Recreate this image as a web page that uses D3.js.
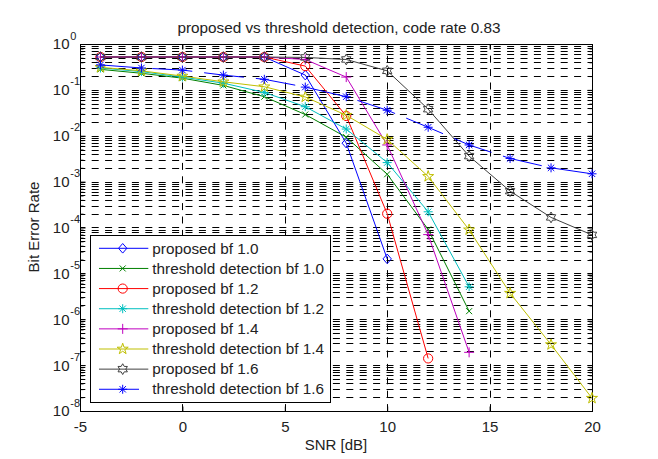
<!DOCTYPE html>
<html><head><meta charset="utf-8">
<script src="https://cdn.jsdelivr.net/npm/d3@7"></script>
<style>
body{margin:0;background:#fff}
text{font-family:"Liberation Sans",Arial,sans-serif;fill:#222}
</style>
</head><body>
<svg id="c" width="658" height="459"></svg>
<script>
// ---------------- data ----------------
const snr = [-4,-2,0,2,4,6,8,10,12,14,16,18,20];
const proposed10  = [0.52,0.52,0.52,0.52,0.52,0.21,0.0069,2.07e-5];
const threshold10 = [0.28,0.23,0.18,0.125,0.071,0.029,0.0093,0.00145,9.1e-5,1.5e-6];
const proposed12  = [0.52,0.52,0.52,0.52,0.52,0.33,0.027,2.0e-4,1.4e-7];
const threshold12 = [0.30,0.25,0.19,0.14,0.088,0.043,0.014,0.0026,2.2e-4,5.1e-6];
const proposed14  = [0.52,0.52,0.52,0.52,0.52,0.46,0.19,0.0063,7e-5,1.9e-7];
const threshold14 = [0.31,0.26,0.20,0.15,0.117,0.07,0.028,0.0083,1.3e-3,8.9e-5,3.7e-6,2.8e-7,1.9e-8];
const proposed16  = [0.52,0.52,0.52,0.52,0.52,0.51,0.46,0.26,0.038,0.0036,6.2e-4,1.66e-4,6.9e-5];
const threshold16 = [0.35,0.30,0.27,0.21,0.17,0.115,0.071,0.036,0.0153,0.0063,0.0032,0.002,0.00148];

const seriesNames = ["proposed bf 1.0","threshold detection bf 1.0","proposed bf 1.2","threshold detection bf 1.2",
                     "proposed bf 1.4","threshold detection bf 1.4","proposed bf 1.6","threshold detection bf 1.6"];
const seriesValues = [proposed10,threshold10,proposed12,threshold12,proposed14,threshold14,proposed16,threshold16];
const xTicks = [-5,0,5,10,15,20];
const yExps = [0,-1,-2,-3,-4,-5,-6,-7,-8];
const titleText = "proposed vs threshold detection, code rate 0.83";
const xLabel = "SNR [dB]";
const yLabel = "Bit Error Rate";

// ---------------- style ----------------
const colors  = ["#0000ff","#008000","#ff0000","#00bfbf","#bf00bf","#bfbf00","#404040","#0000ff"];
const markers = ["diamond","x","circle","asterisk","plus","pentagram","hexagram","asterisk"];
const dashes  = [null,null,null,null,null,null,null,"40,12"];

const L=80, R=592, T=44, B=411;
const x = d3.scaleLinear().domain([-5,20]).range([L,R]);
const y = d3.scaleLog().domain([1e-8,1]).range([B,T]);

const svg = d3.select("#c");
svg.append("rect").attr("width",658).attr("height",459).attr("fill","#fff");

// ---------------- grid ----------------
const gridVals = [];
for (let e=-8;e<0;e++) for (let m=1;m<10;m++){ const v=m*Math.pow(10,e); if(v>1e-8) gridVals.push(v); }
const grid = svg.append("g").attr("stroke","#000").attr("stroke-width",1).attr("stroke-dasharray","7,6.4").attr("stroke-dashoffset",1.7);
grid.selectAll("line.h").data(gridVals).join("line").attr("class","h")
  .attr("x1",L).attr("x2",R)
  .attr("y1",d=>Math.round(y(d))+0.5).attr("y2",d=>Math.round(y(d))+0.5);
grid.selectAll("line.v").data(xTicks.slice(1,-1)).join("line").attr("class","v")
  .attr("y1",T).attr("y2",B)
  .attr("x1",d=>Math.round(x(d))+0.5).attr("x2",d=>Math.round(x(d))+0.5);

// ---------------- axes ----------------
const majorY = yExps.map(e=>Math.pow(10,e));
const minorY = gridVals.filter(v=>!majorY.some(m=>Math.abs(m-v)/v<1e-9));
function styleAxis(sel){ sel.select(".domain").remove(); sel.selectAll("line").attr("stroke","#000"); }
svg.append("g").attr("transform",`translate(0,${B+0.5})`)
  .call(d3.axisBottom(x).tickValues(xTicks).tickSizeInner(-5).tickSizeOuter(0).tickPadding(10).tickFormat(d=>String(d)))
  .call(styleAxis)
  .call(g=>g.selectAll("text").attr("font-size",15).attr("fill","#222").attr("font-family","Liberation Sans, Arial, sans-serif"));
svg.append("g").attr("transform",`translate(0,${T+0.5})`)
  .call(d3.axisTop(x).tickValues(xTicks).tickSizeInner(-5).tickSizeOuter(0).tickFormat(""))
  .call(styleAxis);
svg.append("g").attr("transform",`translate(${L+0.5},0)`)
  .call(d3.axisLeft(y).tickValues(majorY).tickSizeInner(-5).tickSizeOuter(0).tickFormat(""))
  .call(styleAxis);
svg.append("g").attr("transform",`translate(${L+0.5},0)`)
  .call(d3.axisLeft(y).tickValues(minorY).tickSizeInner(-3).tickSizeOuter(0).tickFormat(""))
  .call(styleAxis);
svg.append("g").attr("transform",`translate(${R+0.5},0)`)
  .call(d3.axisRight(y).tickValues(majorY).tickSizeInner(-5).tickSizeOuter(0).tickFormat(""))
  .call(styleAxis);
svg.append("g").attr("transform",`translate(${R+0.5},0)`)
  .call(d3.axisRight(y).tickValues(minorY).tickSizeInner(-3).tickSizeOuter(0).tickFormat(""))
  .call(styleAxis);

// y tick labels 10^e
const yl = svg.append("g");
yExps.forEach(e=>{
  const yy = y(Math.pow(10,e));
  yl.append("text").attr("x",69.5).attr("y",yy+5.4).attr("text-anchor","end").attr("font-size",15).text("10");
  yl.append("text").attr("x",70.3).attr("y",yy-4.5).attr("font-size",11).text(String(e));
});

// box
svg.append("rect").attr("x",L+0.5).attr("y",T+0.5).attr("width",R-L).attr("height",B-T)
  .attr("fill","none").attr("stroke","#000").attr("stroke-width",1);

// ---------------- markers ----------------
function markerPath(type){
  const p = d3.path();
  if(type==="circle"){ p.moveTo(4.6,0); p.arc(0,0,4.6,0,2*Math.PI); }
  else if(type==="diamond"){ p.moveTo(0,-4.8); p.lineTo(4.2,0); p.lineTo(0,4.8); p.lineTo(-4.2,0); p.closePath(); }
  else if(type==="x"){ const s=3; p.moveTo(-s,-s); p.lineTo(s,s); p.moveTo(-s,s); p.lineTo(s,-s); }
  else if(type==="plus"){ const s=5; p.moveTo(-s,0); p.lineTo(s,0); p.moveTo(0,-s); p.lineTo(0,s); }
  else if(type==="asterisk"){ const s=4.5, d=3.2; p.moveTo(-s,0); p.lineTo(s,0); p.moveTo(0,-s); p.lineTo(0,s);
      p.moveTo(-d,-d); p.lineTo(d,d); p.moveTo(-d,d); p.lineTo(d,-d); }
  else if(type==="pentagram"){ const ro=5.8, ri=ro*0.382;
      for(let i=0;i<10;i++){ const r=i%2?ri:ro, a=-Math.PI/2+i*Math.PI/5; const px=r*Math.cos(a), py=r*Math.sin(a); i?p.lineTo(px,py):p.moveTo(px,py);} p.closePath(); }
  else if(type==="hexagram"){ const ro=5.4, ri=ro/Math.sqrt(3);
      for(let i=0;i<12;i++){ const r=i%2?ri:ro, a=-Math.PI/2+i*Math.PI/6; const px=r*Math.cos(a), py=r*Math.sin(a); i?p.lineTo(px,py):p.moveTo(px,py);} p.closePath(); }
  return p.toString();
}

// ---------------- series ----------------
const line = d3.line().x(d=>x(d[0])).y(d=>y(d[1]));
const plot = svg.append("g");
seriesValues.forEach((vals,i)=>{
  const pts = vals.map((v,j)=>[snr[j],v]);
  const gS = plot.append("g");
  gS.append("path").datum(pts).attr("d",line).attr("fill","none").attr("stroke",colors[i]).attr("stroke-width",1)
    .attr("stroke-dasharray",dashes[i]);
  gS.selectAll("path.m").data(pts).join("path").attr("class","m")
    .attr("transform",d=>`translate(${x(d[0])},${y(d[1])})`)
    .attr("d",markerPath(markers[i])).attr("fill","none").attr("stroke",colors[i]).attr("stroke-width",1);
});

// ---------------- legend ----------------
const lg = svg.append("g");
lg.append("rect").attr("x",90.5).attr("y",235.5).attr("width",240).attr("height",167)
  .attr("fill","#fff").attr("stroke","#000").attr("stroke-width",1);
seriesNames.forEach((name,i)=>{
  const yy = 248.3 + i*20.14;
  lg.append("line").attr("x1",99).attr("x2",148.3).attr("y1",yy).attr("y2",yy)
    .attr("stroke",colors[i]).attr("stroke-width",1).attr("stroke-dasharray",dashes[i]);
  lg.append("path").attr("transform",`translate(122.7,${yy})`).attr("d",markerPath(markers[i]))
    .attr("fill","none").attr("stroke",colors[i]).attr("stroke-width",1);
  lg.append("text").attr("x",152.3).attr("y",yy+5.2).attr("font-size",15.3).text(name);
});

// ---------------- titles ----------------
svg.append("text").attr("x",339).attr("y",33).attr("text-anchor","middle").attr("font-size",15.3).text(titleText);
svg.append("text").attr("x",336).attr("y",450).attr("text-anchor","middle").attr("font-size",15).text(xLabel);
svg.append("text").attr("transform","translate(38.5,227) rotate(-90)").attr("text-anchor","middle").attr("font-size",15).text(yLabel);
</script>
</body></html>
